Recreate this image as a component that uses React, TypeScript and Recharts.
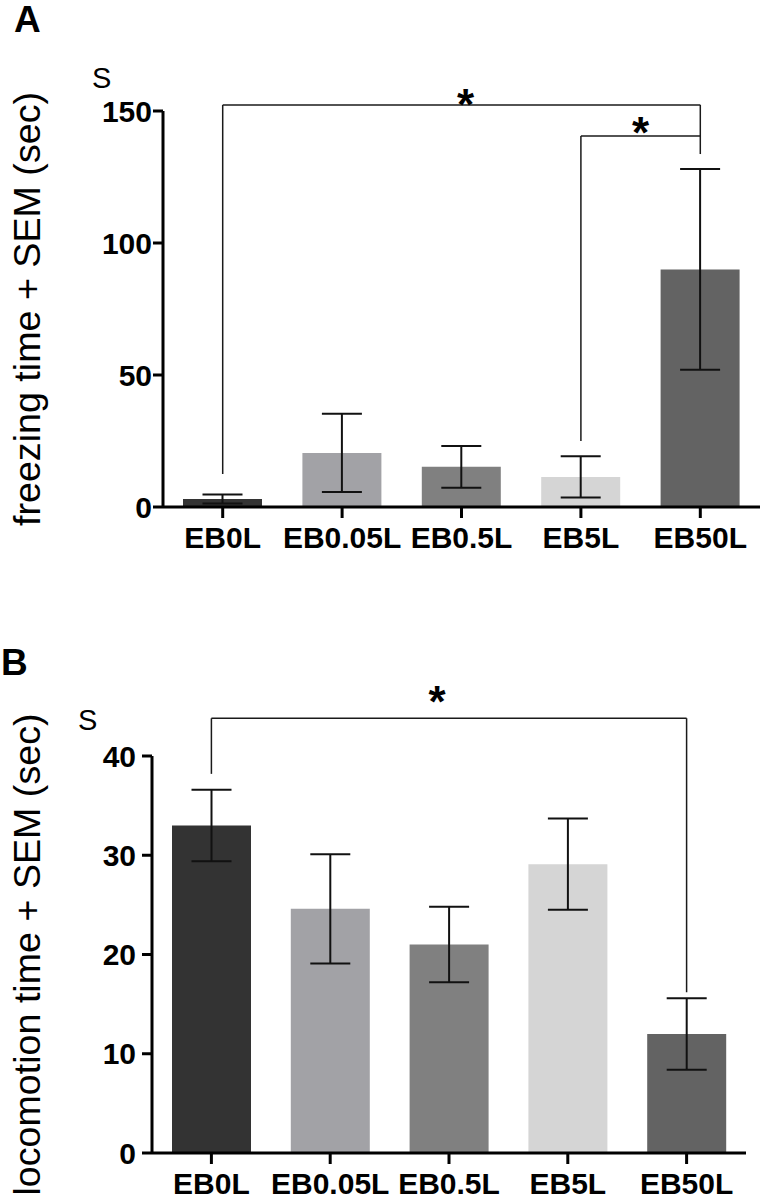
import React from 'react'
import { BarChart, Bar, XAxis, YAxis, ErrorBar, Cell, ReferenceLine } from 'recharts'

const FONT = '"Liberation Sans", Arial, Helvetica, sans-serif'

const groups = ['EB0L', 'EB0.05L', 'EB0.5L', 'EB5L', 'EB50L']
const barColors = ['#333333', '#a2a2a6', '#808080', '#d5d5d5', '#636363']

// panel A
const freezingMean = [3, 20.5, 15.2, 11.4, 90]
const freezingSem = [1.7, 14.8, 7.9, 7.8, 38]
const freezingTicks = [0, 50, 100, 150]

// panel B
const locomotionMean = [33, 24.6, 21, 29.1, 12]
const locomotionSem = [3.6, 5.5, 3.8, 4.6, 3.6]
const locomotionTicks = [0, 10, 20, 30, 40]

// significance brackets (y values in axis units)
const freezingBrackets = [
  { from: 'EB0L', to: 'EB50L', top: 152.3, leftEnd: 12.5, rightEnd: 133.7 },
  { from: 'EB5L', to: 'EB50L', top: 140.5, leftEnd: 25, rightEnd: 140.5 },
]
const locomotionBrackets = [
  { from: 'EB0L', to: 'EB50L', top: 43.8, leftEnd: 38.2, rightEnd: 16.2 },
]

const freezingData = groups.map((g, i) => ({ group: g, mean: freezingMean[i], sem: freezingSem[i] }))
const locomotionData = groups.map((g, i) => ({ group: g, mean: locomotionMean[i], sem: locomotionSem[i] }))

function XTick({ x, y, payload, dy }: any) {
  return (
    <text x={x} y={y + dy} textAnchor="middle" fontSize={30} fontWeight={700} fontFamily={FONT} fill="#000">
      {payload.value}
    </text>
  )
}

function YTick({ x, y, payload }: any) {
  return (
    <text x={x} y={y + 10.7} textAnchor="end" fontSize={30} fontWeight={700} fontFamily={FONT} fill="#000">
      {payload.value}
    </text>
  )
}

function AxisTitle({ viewBox, text, length, cx }: any) {
  const vb = viewBox || { y: 0, height: 0 }
  const cy = vb.y + vb.height / 2
  return (
    <text
      transform={`translate(${cx},${cy}) rotate(-90)`}
      textAnchor="middle"
      fontSize={36}
      fontFamily={FONT}
      fill="#000"
      textLength={length}
      lengthAdjust="spacingAndGlyphs"
    >
      {text}
    </text>
  )
}

const STAR_SIZE = 44

function Star({ viewBox, lift, shift }: any) {
  if (!viewBox) return null
  const cx = viewBox.x + viewBox.width / 2 + shift
  return (
    <text
      x={cx}
      y={viewBox.y - lift + STAR_SIZE * 0.56}
      textAnchor="middle"
      fontSize={STAR_SIZE}
      fontWeight={700}
      fontFamily={FONT}
      fill="#000"
    >
      *
    </text>
  )
}

const line = { stroke: '#1a1a1a', strokeWidth: 1.5 }
const axisStroke = { stroke: '#000', strokeWidth: 3 }

function Panel({ data, ticks, brackets, stars, title, titleLength, top, height, margin, yWidth, yTickMargin, xHeight, xDy }: any) {
  return (
    <div style={{ position: 'absolute', left: 0, top }}>
      <BarChart width={764} height={height} data={data} margin={margin} barSize={79}>
        <XAxis
          dataKey="group"
          height={xHeight}
          interval={0}
          axisLine={axisStroke}
          tickLine={axisStroke}
          tickSize={11}
          tickMargin={2}
          tick={<XTick dy={xDy} />}
        />
        <YAxis
          width={yWidth}
          domain={[0, ticks[ticks.length - 1]]}
          ticks={ticks}
          interval={0}
          axisLine={axisStroke}
          tickLine={axisStroke}
          tickSize={10}
          tickMargin={yTickMargin}
          tick={<YTick />}
          label={<AxisTitle text={title} length={titleLength} cx={40} />}
        />
        <Bar dataKey="mean" isAnimationActive={false}>
          {data.map((d: any, i: number) => (
            <Cell key={d.group} fill={barColors[i]} />
          ))}
          <ErrorBar dataKey="sem" width={20} stroke="#111" strokeWidth={2} direction="y" isAnimationActive={false} />
        </Bar>
        {brackets.map((b: any, i: number) => (
          <ReferenceLine
            key={`h${i}`}
            segment={[{ x: b.from, y: b.top }, { x: b.to, y: b.top }]}
            {...line}
            ifOverflow="visible"
            label={(p: any) => <Star {...p} lift={stars[i].lift} shift={stars[i].shift} />}
          />
        ))}
        {brackets.map((b: any, i: number) => (
          <ReferenceLine
            key={`l${i}`}
            segment={[{ x: b.from, y: b.top }, { x: b.from, y: b.leftEnd }]}
            {...line}
            ifOverflow="visible"
          />
        ))}
        {brackets.map((b: any, i: number) => (
          <ReferenceLine
            key={`r${i}`}
            segment={[{ x: b.to, y: b.top }, { x: b.to, y: b.rightEnd }]}
            {...line}
            ifOverflow="visible"
          />
        ))}
      </BarChart>
    </div>
  )
}

export default function App() {
  return (
    <div style={{ position: 'absolute', left: 0, top: 0, width: 764, height: 1199, overflow: 'hidden', background: '#fff' }}>
      <Panel
        data={freezingData}
        ticks={freezingTicks}
        brackets={freezingBrackets}
        stars={[{ lift: 10, shift: 4 }, { lift: 13, shift: 0 }]}
        title="freezing time + SEM (sec)"
        titleLength={434}
        top={0}
        height={600}
        margin={{ top: 111, right: 4, bottom: 33, left: 0 }}
        yWidth={163}
        yTickMargin={1}
        xHeight={60}
        xDy={28}
      />
      <Panel
        data={locomotionData}
        ticks={locomotionTicks}
        brackets={locomotionBrackets}
        stars={[{ lift: 26, shift: -12 }]}
        title="locomotion time + SEM (sec)"
        titleLength={482}
        top={600}
        height={599}
        margin={{ top: 156, right: 18, bottom: 6, left: 0 }}
        yWidth={152}
        yTickMargin={6}
        xHeight={40}
        xDy={28}
      />
      <svg width={764} height={1199} style={{ position: 'absolute', left: 0, top: 0, pointerEvents: 'none' }}>
        <text x={14} y={32} fontSize={37} fontWeight={700} fontFamily={FONT} fill="#000">A</text>
        <text x={1} y={675} fontSize={37} fontWeight={700} fontFamily={FONT} fill="#000">B</text>
        <text x={92} y={88} fontSize={29} fontFamily={FONT} fill="#000">S</text>
        <text x={78} y={730} fontSize={29} fontFamily={FONT} fill="#000">S</text>
      </svg>
    </div>
  )
}
